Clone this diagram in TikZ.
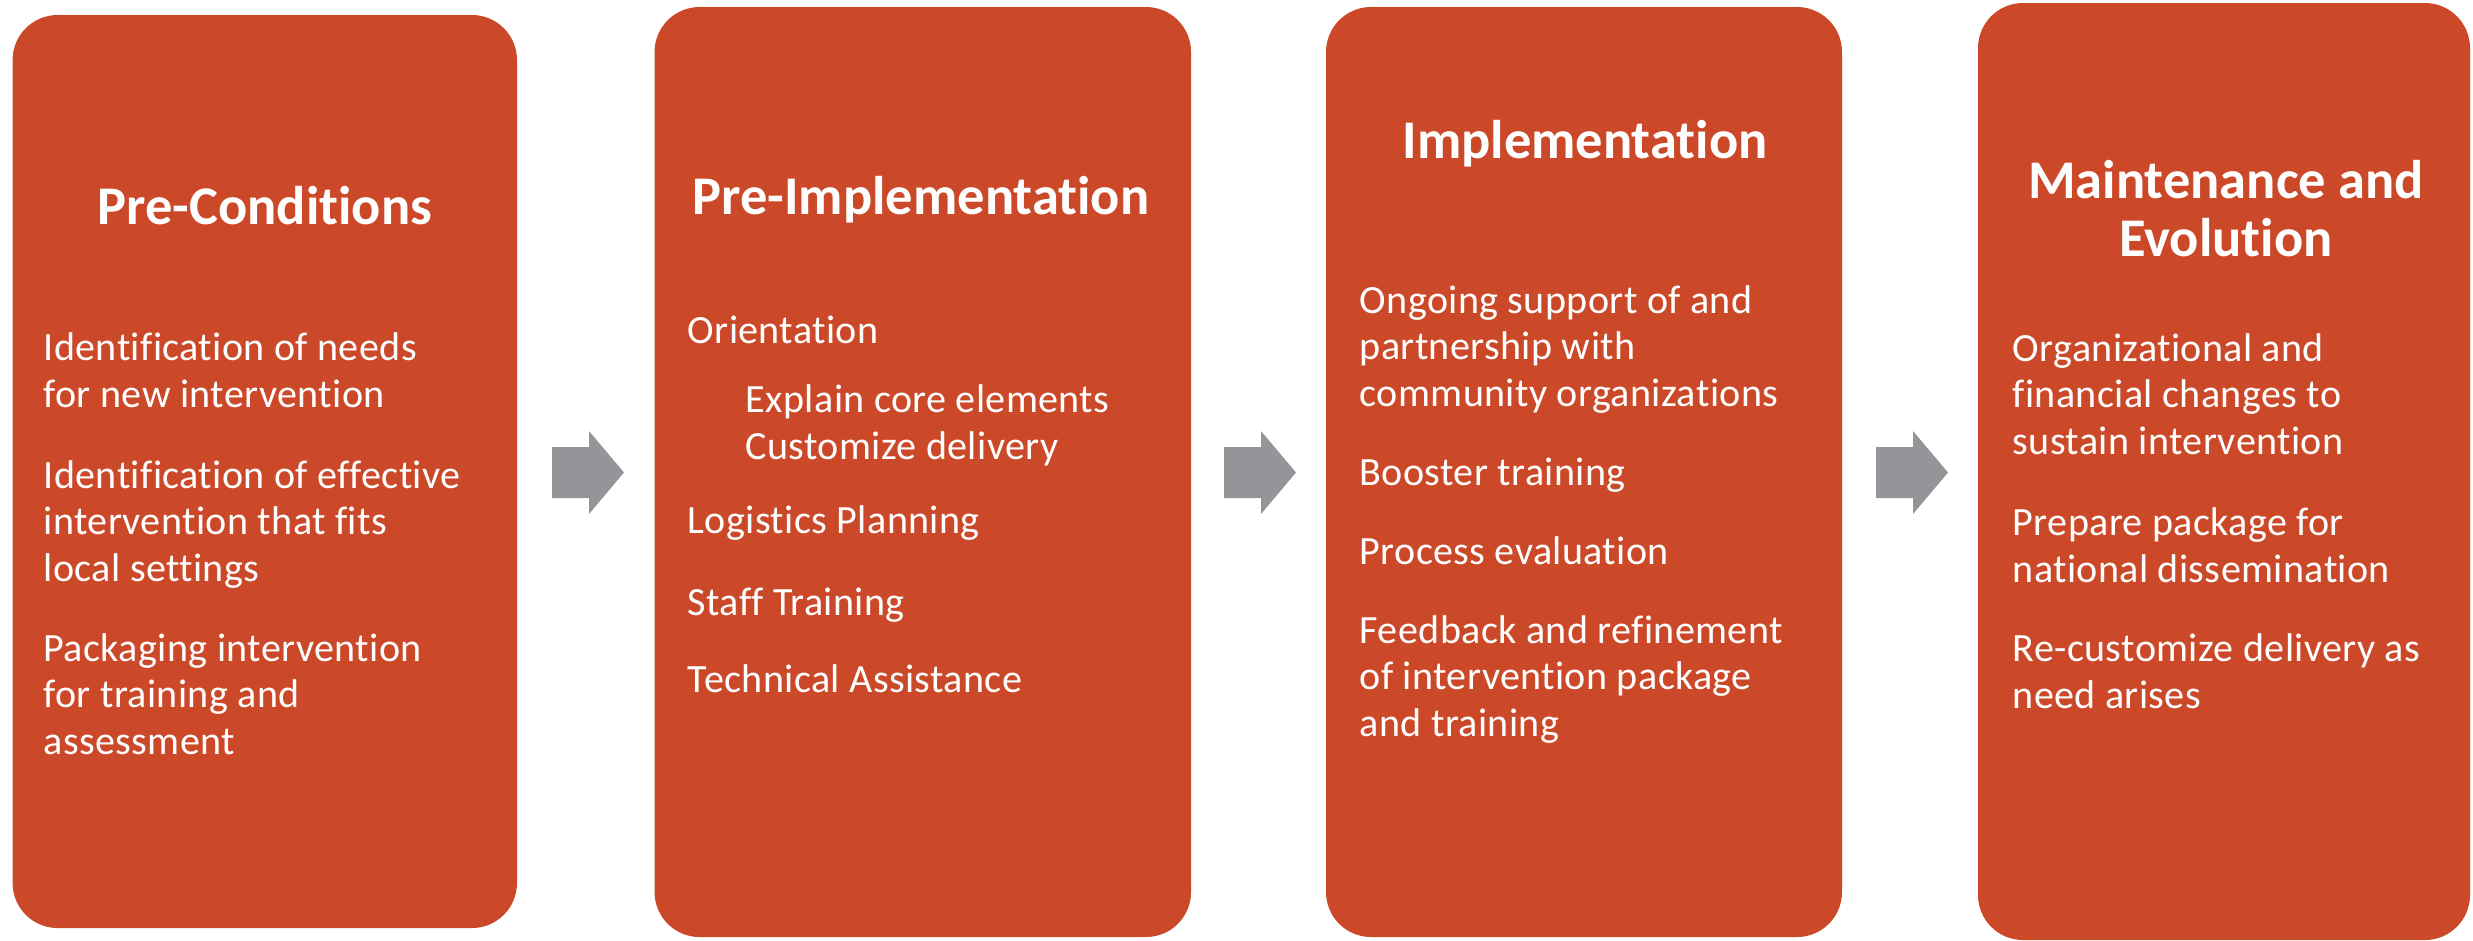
\documentclass[tikz,border=0pt]{standalone}
\usepackage{fontspec}
\setmainfont{Carlito}[Ligatures={NoCommon}]
\newfontfamily\bodyfont{Carlito}[Ligatures={NoCommon}, LetterSpace=1.0]
\usepackage{xcolor}

\definecolor{stagered}{RGB}{203,73,41}
\definecolor{arrowgray}{RGB}{147,149,152}

\tikzset{
  stage/.style={fill=stagered, rounded corners=0.45cm, inner sep=0pt},
  title/.style={text=white, font=\fontsize{15.5}{16.5}\selectfont\bfseries, align=center, anchor=base, inner sep=0pt},
  item/.style={text=white, font=\bodyfont\fontsize{11.4}{13.2}\selectfont, align=left, anchor=base west, inner sep=0pt},
  blockarrow/.style={fill=arrowgray}
}

\begin{document}
\begin{tikzpicture}
  \useasboundingbox (0,0) rectangle (24.73,-9.40);

  % the four stages
  \node [stage, minimum width=5.044cm, minimum height=9.13cm] (pre) at (2.648,-4.715) {};
  \node [stage, minimum width=5.365cm, minimum height=9.30cm] (preimp) at (9.228,-4.72) {};
  \node [stage, minimum width=5.16cm, minimum height=9.30cm] (imp) at (15.84,-4.72) {};
  \node [stage, minimum width=4.92cm, minimum height=9.37cm] (maint) at (22.24,-4.715) {};

  % block arrows between the stages
  \foreach \x in {5.52,12.24,18.76}
    \fill [blockarrow] (\x,-4.47) -- ++(0.37,0) -- ++(0,0.16) -- ++(0.35,-0.415)
      -- ++(-0.35,-0.415) -- ++(0,0.16) -- ++(-0.37,0) -- cycle;

  % titles (multi-line nodes sit on their last line)
  \node [title] (preT) at (2.648,-2.24) {Pre-Conditions};
  \node [title] (preimpT) at (9.21,-2.14) {Pre-Implementation};
  \node [title] (impT) at (15.85,-1.58) {Implementation};
  \node [title] (maintT) at (22.26,-2.56) {Maintenance and\\Evolution};

  % Pre-Conditions
  \node [item] (pre1) at (0.43,-4.07) {Identification of needs\\for new intervention};
  \node [item] (pre2) at (0.43,-5.81) {Identification of effective\\intervention that fits\\local settings};
  \node [item] (pre3) at (0.43,-7.54) {Packaging intervention\\for training and\\assessment};

  % Pre-Implementation
  \node [item] (preimp1) at (6.87,-3.43) {Orientation};
  \node [item] (preimp1a) at (7.45,-4.59) {Explain core elements\\Customize delivery};
  \node [item] (preimp2) at (6.87,-5.33) {Logistics Planning};
  \node [item] (preimp3) at (6.87,-6.15) {Staff Training};
  \node [item] (preimp4) at (6.87,-6.92) {Technical Assistance};

  % Implementation
  \node [item] (imp1) at (13.59,-4.06) {Ongoing support of and\\partnership with\\community organizations};
  \node [item] (imp2) at (13.59,-4.85) {Booster training};
  \node [item] (imp3) at (13.59,-5.64) {Process evaluation};
  \node [item] (imp4) at (13.59,-7.36) {Feedback and refinement\\of intervention package\\and training};

  % Maintenance and Evolution
  \node [item] (maint1) at (20.12,-4.54) {Organizational and\\financial changes to\\sustain intervention};
  \node [item] (maint2) at (20.12,-5.82) {Prepare package for\\national dissemination};
  \node [item] (maint3) at (20.12,-7.08) {Re-customize delivery as\\need arises};
\end{tikzpicture}
\end{document}
